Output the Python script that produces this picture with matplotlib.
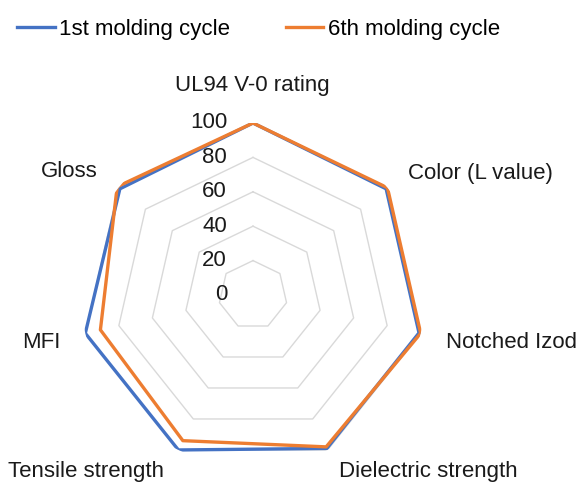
import numpy as np
import matplotlib
matplotlib.use("Agg")
import matplotlib.pyplot as plt
from matplotlib.transforms import offset_copy

plt.rcParams["font.family"] = ["Liberation Sans", "DejaVu Sans"]

categories = ["UL94 V-0 rating", "Color (L value)", "Notched Izod",
              "Dielectric strength", "Tensile strength", "MFI", "Gloss"]
cycle_1 = [100, 99, 99, 99, 100, 100, 99]
cycle_6 = [100, 100, 100, 98, 94, 91, 101]
r_ticks = [0, 20, 40, 60, 80, 100]

BLUE = "#4472C4"
ORANGE = "#ED7D31"
GRID = "#d9d9d9"
FS = 16

W, H = 578, 483
fig = plt.figure(figsize=(W / 100, H / 100), dpi=100)

# radar centre (253, 295) px from top-left, radius 172 px
cx, cy, R = 253, 295, 172
ax = fig.add_axes([(cx - R) / W, (H - cy - R) / H, 2 * R / W, 2 * R / H],
                  projection="polar")
ax.set_theta_zero_location("N")
ax.set_theta_direction(-1)
ax.set_ylim(0, 100)
ax.grid(False)
ax.spines["polar"].set_visible(False)
ax.set_xticks([])
ax.set_yticks([])
ax.patch.set_alpha(0)

n = len(categories)
theta = np.linspace(0, 2 * np.pi, n, endpoint=False)
theta_c = np.append(theta, theta[0])

for r in r_ticks[1:]:
    ax.plot(theta_c, [r] * (n + 1), color=GRID, lw=1.0, zorder=1)

ax.plot(theta_c, cycle_1 + cycle_1[:1], color=BLUE, lw=2.4, zorder=3,
        label="1st molding cycle")
ax.plot(theta_c, cycle_6 + cycle_6[:1], color=ORANGE, lw=2.4, zorder=4,
        label="6th molding cycle")

# radial value labels along the top spoke
lab_tr = offset_copy(ax.transData, fig=fig, x=-26, y=0, units="dots")
for r in r_ticks:
    ax.text(0, r, str(r), transform=lab_tr, ha="right", va="center",
            fontsize=FS, color="#1a1a1a")

# category labels (x, y in px, alignment)
label_pos = [
    (252, 86, "center"),
    (408, 173, "left"),
    (446, 342, "left"),
    (339, 471, "left"),
    (164, 471, "right"),
    (60, 342, "right"),
    (98, 172, "right"),
]
for name, (x, y, ha) in zip(categories, label_pos):
    fig.text(x / W, 1 - y / H, name, ha=ha, va="center", fontsize=FS,
             color="#1a1a1a")

fig.legend(loc="upper left", bbox_to_anchor=(8 / W, 1 - 10 / H), ncol=2,
           frameon=False, fontsize=FS, handlelength=1.7, handletextpad=0.2,
           columnspacing=2.5, borderaxespad=0)

fig.savefig("out.png", dpi=100)
